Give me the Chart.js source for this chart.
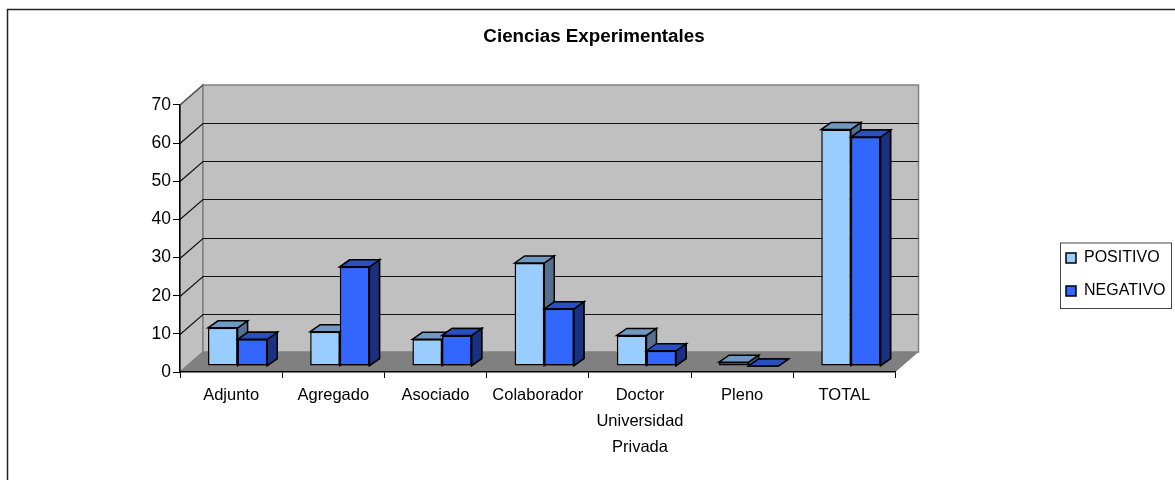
<!DOCTYPE html>
<html>
<head>
<meta charset="utf-8">
<title>Ciencias Experimentales</title>
<script src="https://cdn.jsdelivr.net/npm/chart.js@4"></script>
<style>
  html, body { margin: 0; padding: 0; background: #fff; }
  canvas { display: block; }
</style>
</head>
<body>
<canvas id="chart" width="1175" height="480"></canvas>
<script>
var categories = ["Adjunto", "Agregado", "Asociado", "Colaborador", ["Doctor", "Universidad", "Privada"], "Pleno", "TOTAL"];
var positivo = [10, 9, 7, 27, 8, 1, 62];
var negativo = [7, 26, 8, 15, 4, 0, 60];
var yTicks = [0, 10, 20, 30, 40, 50, 60, 70];

var FONT = "'Liberation Sans', Arial, sans-serif";
// depth of the fake 3d box, and of the bars inside it
var wallX = 23, wallY = -20;
var barShiftX = 6.5, barShiftY = -6;
var barX = 10, barY = -7;

function poly(ctx, pts, fill, stroke, lw) {
    ctx.beginPath();
    ctx.moveTo(pts[0][0], pts[0][1]);
    for (var i = 1; i < pts.length; i++) ctx.lineTo(pts[i][0], pts[i][1]);
    ctx.closePath();
    if (fill) { ctx.fillStyle = fill; ctx.fill(); }
    if (stroke) { ctx.strokeStyle = stroke; ctx.lineWidth = lw; ctx.stroke(); }
}

function drawBarSides(ctx, meta, topColor, sideColor) {
    meta.data.forEach(function(b) {
        var l = b.x - b.width / 2, r = b.x + b.width / 2;
        poly(ctx, [[r, b.y], [r + barX, b.y + barY], [r + barX, b.base + barY], [r, b.base]], sideColor, "#000", 1.5);
        poly(ctx, [[l, b.y], [l + barX, b.y + barY], [r + barX, b.y + barY], [r, b.y]], topColor, "#000", 1.5);
    });
}

var box3d = {
    id: "box3d",
    afterLayout: function(chart) {
        // title is centred on the page area without the legend padding
        chart.titleBlock.left = 13;
        chart.titleBlock.right = 1175;
        var lg = chart.legend;
        var w = lg.width;
        lg.left = 1049; lg.right = lg.left + w;
        lg.top = 233; lg.bottom = 330;
    },
    beforeDraw: function(chart) {
        var ctx = chart.ctx, a = chart.chartArea, y = chart.scales.y;
        ctx.save();
        // outer frame, open at the right and bottom
        ctx.strokeStyle = "#222";
        ctx.lineWidth = 1.5;
        ctx.beginPath();
        ctx.moveTo(7.5, 480); ctx.lineTo(7.5, 9.5); ctx.lineTo(1175, 9.5);
        ctx.stroke();
        // side wall, back wall, floor
        poly(ctx, [[a.left, a.top], [a.left + wallX, a.top + wallY], [a.left + wallX, a.bottom + wallY], [a.left, a.bottom]], "#c0c0c0", "#808080", 1.5);
        poly(ctx, [[a.left + wallX, a.top + wallY], [a.right + wallX, a.top + wallY], [a.right + wallX, a.bottom + wallY], [a.left + wallX, a.bottom + wallY]], "#c0c0c0", "#808080", 1.5);
        poly(ctx, [[a.left, a.bottom], [a.left + wallX, a.bottom + wallY], [a.right + wallX, a.bottom + wallY], [a.right, a.bottom]], "#808080", null, 0);
        // grid lines run up the side wall and along the back
        ctx.strokeStyle = "#111";
        ctx.lineWidth = 1.2;
        yTicks.forEach(function(t) {
            if (t === 0 || t === 70) return;
            var p = Math.round(y.getPixelForValue(t)) + 0.5;
            ctx.beginPath();
            ctx.moveTo(a.left, p);
            ctx.lineTo(a.left + wallX, p + wallY);
            ctx.lineTo(a.right + wallX, p + wallY);
            ctx.stroke();
        });
        ctx.strokeStyle = "#555";
        ctx.beginPath();
        ctx.moveTo(a.left, a.top);
        ctx.lineTo(a.left + wallX, a.top + wallY);
        ctx.stroke();
        ctx.restore();
    },
    beforeDatasetsDraw: function(chart) {
        chart.ctx.save();
        chart.ctx.translate(barShiftX, barShiftY);
    },
    beforeDatasetDraw: function(chart, args) {
        if (args.index === 0) drawBarSides(chart.ctx, args.meta, "#7098c0", "#557090");
        else drawBarSides(chart.ctx, args.meta, "#2850c0", "#1a3080");
    },
    afterDatasetDraw: function(chart, args) {
        // chart.js paints the first dataset last, the negative bars have to sit on top
        if (args.index === 0) {
            var neg = chart.getDatasetMeta(1);
            drawBarSides(chart.ctx, neg, "#2850c0", "#1a3080");
            neg.data.forEach(function(b) { b.draw(chart.ctx); });
        }
    },
    afterDatasetsDraw: function(chart) {
        chart.ctx.restore();
    },
    afterDraw: function(chart) {
        var ctx = chart.ctx;
        ctx.save();
        ctx.strokeStyle = "#444";
        ctx.lineWidth = 1;
        ctx.strokeRect(1060.5, 243, 111, 65.5);
        ctx.restore();
    }
};

new Chart(document.getElementById("chart"), {
    type: "bar",
    plugins: [box3d],
    data: {
        labels: categories,
        datasets: [
            { label: "POSITIVO", data: positivo, backgroundColor: "#99ccff", borderColor: "#000", borderWidth: 1.5, borderSkipped: false, clip: false },
            { label: "NEGATIVO", data: negativo, backgroundColor: "#3366ff", borderColor: "#000", borderWidth: 1.5, borderSkipped: false, clip: false }
        ]
    },
    options: {
        responsive: false,
        animation: false,
        layout: { padding: { left: 0, right: 153, top: 0, bottom: 0 } },
        datasets: { bar: { barPercentage: 1, categoryPercentage: 0.58 } },
        plugins: {
            tooltip: { enabled: false },
            title: {
                display: true,
                text: "Ciencias Experimentales",
                color: "#000",
                font: { family: FONT, size: 18.8, weight: "bold", lineHeight: 1.2 },
                padding: { top: 26, bottom: 56.4 }
            },
            legend: {
                position: "right",
                align: "start",
                labels: {
                    boxWidth: 10,
                    boxHeight: 10,
                    padding: 17,
                    color: "#000",
                    font: { family: FONT, size: 16 }
                }
            }
        },
        scales: {
            x: {
                afterFit: function(s) { s.height = 108; },
                grid: { drawOnChartArea: false, color: "#000", tickLength: 6 },
                border: { color: "#000", width: 1.5 },
                ticks: { color: "#000", maxRotation: 0, padding: 4, font: { family: FONT, size: 16.5, lineHeight: 1.58 } }
            },
            y: {
                min: 0,
                max: 70,
                afterFit: function(s) { s.width = 180; },
                afterBuildTicks: function(s) { s.ticks = yTicks.map(function(v) { return { value: v }; }); },
                grid: { drawOnChartArea: false, color: "#000", tickLength: 7 },
                border: { color: "#000", width: 1.5 },
                ticks: { color: "#000", padding: 2, font: { family: FONT, size: 17.5 } }
            }
        }
    }
});
</script>
</body>
</html>
